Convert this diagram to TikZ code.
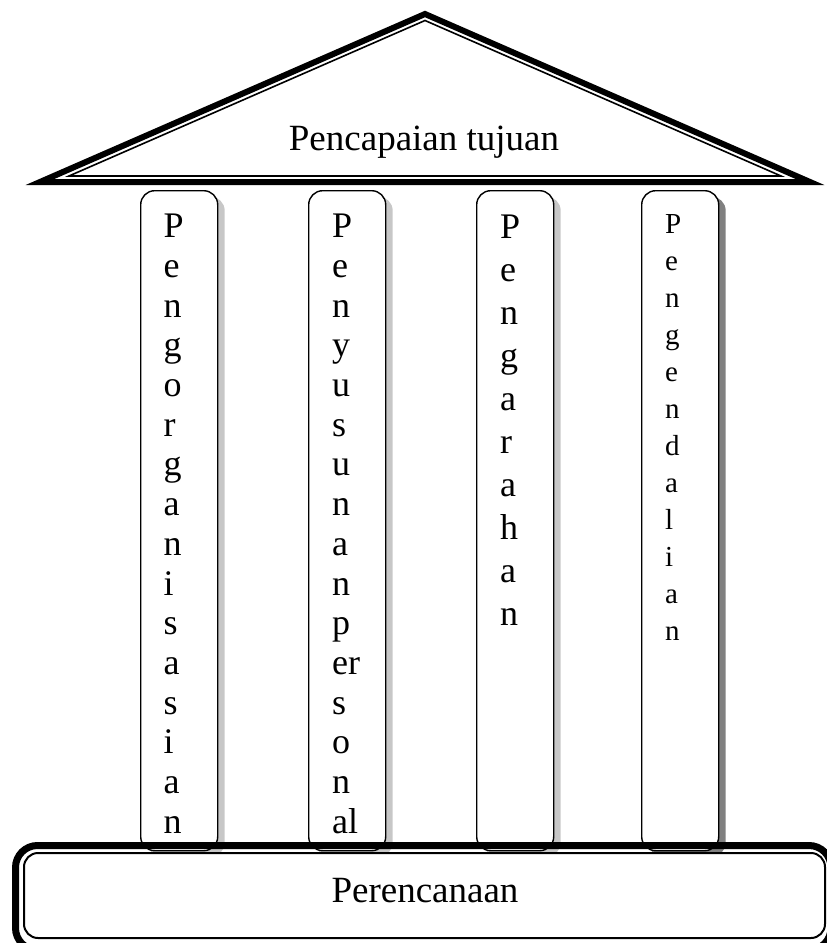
\documentclass[tikz,border=0pt]{standalone}
\usepackage{fontspec}
\setmainfont{Liberation Serif}
\usetikzlibrary{shadows}
\begin{document}
\begin{tikzpicture}[x=1pt,y=-1pt,
  colbox/.style={draw=black, line width=1.4pt, fill=white, rounded corners=14pt,
    minimum width=77pt, minimum height=660pt, inner sep=0pt, anchor=north west},
  lightshadow/.style={drop shadow={shadow xshift=7pt, shadow yshift=-6pt, fill=black!22, opacity=1}},
  darkshadow/.style={drop shadow={shadow xshift=7pt, shadow yshift=-6pt, fill=black!50, opacity=1}},
  coltext/.style={anchor=north west, inner sep=0pt, align=left},
  bigtext/.style={anchor=base, inner sep=0pt, font=\fontsize{37}{40}\selectfont}]
\useasboundingbox (0,0) rectangle (827,943);
\clip (0,0) rectangle (827,943);

% roof
\coordinate (rl) at (40,182);
\coordinate (ra) at (425,14);
\coordinate (rr) at (810,182);
\draw[line width=6pt, line join=miter] (rl) -- (ra) -- (rr) -- cycle;
\coordinate (il) at (69,176);
\coordinate (ia) at (425,20.5);
\coordinate (ir) at (781,176);
\draw[line width=1.6pt, line join=miter] (il) -- (ia) -- (ir) -- cycle;
\node[bigtext] (roof) at (424,150) {Pencapaian tujuan};

% pillars
\node[colbox, lightshadow] (c1) at (140,190) {};
\node[colbox, lightshadow] (c2) at (308,190) {};
\node[colbox, lightshadow] (c3) at (476,190) {};
\node[colbox, darkshadow]  (c4) at (641,190) {};

\node[coltext, font=\fontsize{36}{39.7}\selectfont] (t1) at (163.5,214)
  {P\\e\\n\\g\\o\\r\\g\\a\\n\\i\\s\\a\\s\\i\\a\\n};
\node[coltext, font=\fontsize{36}{39.7}\selectfont] (t2) at (332,214)
  {P\\e\\n\\y\\u\\s\\u\\n\\a\\n\\p\\er\\s\\o\\n\\al};
\node[coltext, font=\fontsize{36}{43}\selectfont] (t3) at (500,215)
  {P\\e\\n\\g\\a\\r\\a\\h\\a\\n};
\node[coltext, font=\fontsize{29}{37}\selectfont] (t4) at (665,214)
  {P\\e\\n\\g\\e\\n\\d\\a\\l\\i\\a\\n};

% base
\draw[line width=7pt, rounded corners=22pt] (15.5,845.5) rectangle (831,950);
\draw[line width=2pt, fill=white, rounded corners=14pt] (24,853) rectangle (825,938);
\node[bigtext] (plan) at (425,902) {Perencanaan};
\end{tikzpicture}
\end{document}
